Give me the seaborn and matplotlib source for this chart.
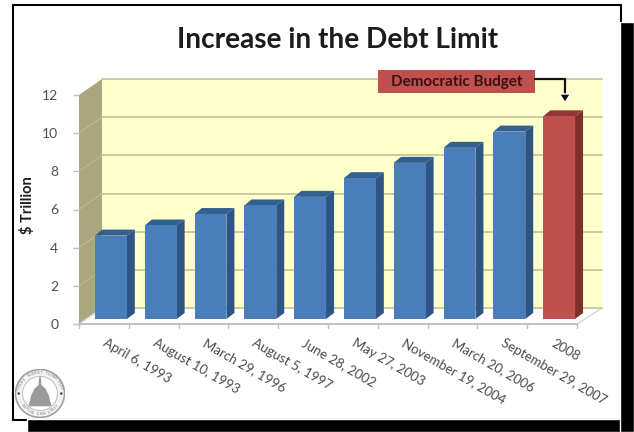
import numpy as np
import pandas as pd
import matplotlib
matplotlib.use("Agg")
import matplotlib.pyplot as plt
from matplotlib.patches import Polygon, Rectangle, Circle
from matplotlib.transforms import IdentityTransform
import seaborn as sns

dates = ["April 6, 1993", "August 10, 1993", "March 29, 1996", "August 5, 1997",
         "June 28, 2002", "May 27, 2003", "November 19, 2004", "March 20, 2006",
         "September 29, 2007", "2008"]
limits = [4.37, 4.90, 5.50, 5.95, 6.40, 7.38, 8.18, 8.97, 9.82, 10.62]
groups = ["Enacted"] * 9 + ["Democratic Budget"]
y_ticks = [0, 2, 4, 6, 8, 10, 12]

W, H = 634, 432
sns.set_theme(style="white", rc={"font.family": ["Lato", "DejaVu Sans"]})
plt.rcParams["font.family"] = ["Lato", "DejaVu Sans"]

fig = plt.figure(figsize=(W / 100, H / 100), dpi=100, facecolor="white")


def px(x, y):
    """Display coordinates from top-left pixel coordinates."""
    return (x, H - y)


def add_px_poly(points, zorder=1, **kw):
    fig.add_artist(Polygon([px(*p) for p in points], closed=True,
                           transform=IdentityTransform(), zorder=zorder, **kw))


def plane(x0, x1, y0, y12, zorder):
    ax = fig.add_axes([x0 / W, 1 - y0 / H, (x1 - x0) / W, (y0 - y12) / H], zorder=zorder)
    ax.set_xlim(-0.5, len(dates) - 0.5)
    ax.set_ylim(0, 12)
    ax.patch.set_alpha(0)
    return ax


# Slide border with its drop shadow
add_px_poly([(13, 5), (621, 5), (621, 420), (13, 420)], zorder=-5,
            facecolor="white", edgecolor="black", linewidth=1.5)
add_px_poly([(27, 419), (634, 419), (634, 432), (27, 432)], zorder=-4, facecolor="black")
add_px_poly([(620, 22), (634, 22), (634, 432), (620, 432)], zorder=-4, facecolor="black")

# Three parallel planes of the pseudo-3D box: back wall, bars, front axis
wall_ax = plane(102, 602, 308, 79, 1)
bar_ax = plane(86, 584, 319, 90, 3)
axis_ax = plane(79, 577, 324, 95, 2)

wall_ax.set_facecolor("#FFFFCC")
wall_ax.patch.set_alpha(1)
wall_ax.set_yticks(y_ticks)
wall_ax.grid(axis="y", color="#C9C69C", linewidth=1.3, clip_on=False)
wall_ax.set_xticks([])
wall_ax.tick_params(left=False, labelleft=False)
sns.despine(ax=wall_ax, left=True, bottom=True, right=True, top=True)

# Side wall, its receding gridlines, and the floor
add_px_poly([(79, 95), (102, 79), (102, 308), (79, 324)], zorder=0.5,
            facecolor="#A9A680", edgecolor="none")
for tick in y_ticks[1:-1]:
    front_y = axis_ax.transData.transform((0, tick))[1]
    back_y = wall_ax.transData.transform((0, tick))[1]
    fig.add_artist(plt.Line2D([79, 102], [front_y, back_y], transform=IdentityTransform(),
                              color="#BDBA94", lw=0.8, zorder=0.6))
add_px_poly([(79, 324), (102, 308), (602, 308), (577, 324)], zorder=0.5,
            facecolor="white", edgecolor="#D4D4D4", linewidth=1)

# Bars with seaborn, then the side and top faces from each bar's own geometry
frame = pd.DataFrame({"date": dates, "limit": limits, "group": groups})
sns.barplot(data=frame, x="date", y="limit", hue="group", dodge=False, ax=bar_ax,
            order=dates, width=0.64, legend=False, saturation=1, linewidth=0,
            palette={"Enacted": "#4A7EBB", "Democratic Budget": "#C0504D"})
bar_ax.set_xlim(-0.5, len(dates) - 0.5)
bar_ax.set_ylim(0, 12)
bar_ax.axis("off")

DX, DY = 8, 6
shades = {"#4A7EBB": ("#2F5486", "#33608F"), "#C0504D": ("#7F2E2C", "#943634")}
for patch in list(bar_ax.patches):
    if patch.get_height() == 0:
        continue
    patch.set_edgecolor("none")
    face = matplotlib.colors.to_hex(patch.get_facecolor()).upper()
    side, top = shades[face]
    x0, x1 = patch.get_x(), patch.get_x() + patch.get_width()
    h = patch.get_height()
    (ax0, ay0), (ax1, ay1) = bar_ax.transData.transform([(x0, h), (x1, 0)])
    for pts, col in (
        ([(ax1, ay1), (ax1 + DX, ay1 + DY), (ax1 + DX, ay0 + DY), (ax1, ay0)], side),
        ([(ax0, ay0), (ax0 + DX * 0.9, ay0 + DY), (ax1 + DX, ay0 + DY), (ax1, ay0)], top),
    ):
        bar_ax.add_patch(Polygon(pts, closed=True, transform=IdentityTransform(),
                                 facecolor=col, edgecolor="none", clip_on=False, zorder=1))
    patch.set_zorder(2)

# Front axis: value labels, date ticks
axis_ax.set_yticks(y_ticks)
axis_ax.tick_params(axis="y", length=4, width=1, color="#BEBEBE", labelsize=10,
                    labelcolor="#505050", pad=11, left=True)
axis_ax.set_xticks(np.arange(len(dates)))
axis_ax.set_xticklabels(dates)
axis_ax.tick_params(axis="x", length=0, labelsize=9.5, labelcolor="#4A4A4A", pad=13, bottom=False)
for lab in axis_ax.get_xticklabels():
    lab.set_rotation(-30)
    lab.set_rotation_mode("anchor")
    lab.set_horizontalalignment("left")
    lab.set_verticalalignment("center")
for boundary in np.arange(len(dates) + 1) - 0.5:
    axis_ax.plot([boundary, boundary], [0, -0.2], color="#BEBEBE", lw=1, clip_on=False)
for s in ("top", "right", "left"):
    axis_ax.spines[s].set_visible(False)
axis_ax.spines["bottom"].set_color("#BEBEBE")

fig.text(28 / W, 1 - 205 / H, "$ Trillion", rotation=90, ha="center", va="center",
         fontsize=10.5, fontweight="bold", color="#1E1E1E")

# Title
fig.text(338 / W, 1 - 39.5 / H, "Increase in the Debt Limit", ha="center", va="center",
         fontsize=20.2, fontweight="bold", color="#1C1C1C")

# Callout box and elbow arrow over the last bar
fig.add_artist(Rectangle(px(378, 93), 157, 23, transform=IdentityTransform(),
                         facecolor="#C0504D", edgecolor="none", zorder=5))
fig.text(456.5 / W, 1 - 82 / H, "Democratic Budget", ha="center", va="center",
         fontsize=11, fontweight="bold", color="#3A1214", zorder=6)
fig.add_artist(plt.Line2D([535, 565, 565], [H - 79, H - 79, H - 97],
                          transform=IdentityTransform(), color="#111111", lw=1.6, zorder=5))
add_px_poly([(559.5, 94), (570.5, 94), (565, 102.5)], zorder=5, facecolor="#111111")

# Committee seal in the corner
seal_ax = fig.add_axes([15 / W, 1 - 418 / H, 50 / W, 49 / H], zorder=4)
seal_ax.set_xlim(-1, 1)
seal_ax.set_ylim(-1, 1)
seal_ax.axis("off")
seal_ax.add_patch(Circle((0, 0), 0.98, fc="#F4F4F2", ec="#A0A0A0", lw=1.2))
seal_ax.add_patch(Circle((0, 0), 0.70, fc="white", ec="#BBBBBB", lw=0.7))
seal_ax.add_patch(Polygon([(-0.46, -0.52), (0.46, -0.52), (0.42, -0.36), (0.36, -0.1),
                           (0.22, 0.2), (0.06, 0.34), (0.03, 0.68), (-0.03, 0.68),
                           (-0.06, 0.34), (-0.22, 0.2), (-0.36, -0.1), (-0.42, -0.36)],
                          closed=True, fc="#9A9A9A", ec="none"))
for letter, ang in zip("HOUSE BUDGET COMMITTEE", np.linspace(165, 15, 22)):
    seal_ax.text(0.85 * np.cos(np.radians(ang)), 0.85 * np.sin(np.radians(ang)), letter,
                 fontsize=2.8, color="#808080", rotation=ang - 90, ha="center", va="center")
for letter, ang in zip("REPUBLICAN STAFF", np.linspace(215, 325, 16)):
    seal_ax.text(0.85 * np.cos(np.radians(ang)), 0.85 * np.sin(np.radians(ang)), letter,
                 fontsize=2.8, color="#808080", rotation=ang + 90, ha="center", va="center")
for x in (-0.85, 0.85):
    seal_ax.add_patch(Circle((x, 0), 0.05, fc="#444444", ec="none"))

fig.savefig("out.png", dpi=100, facecolor="white")
